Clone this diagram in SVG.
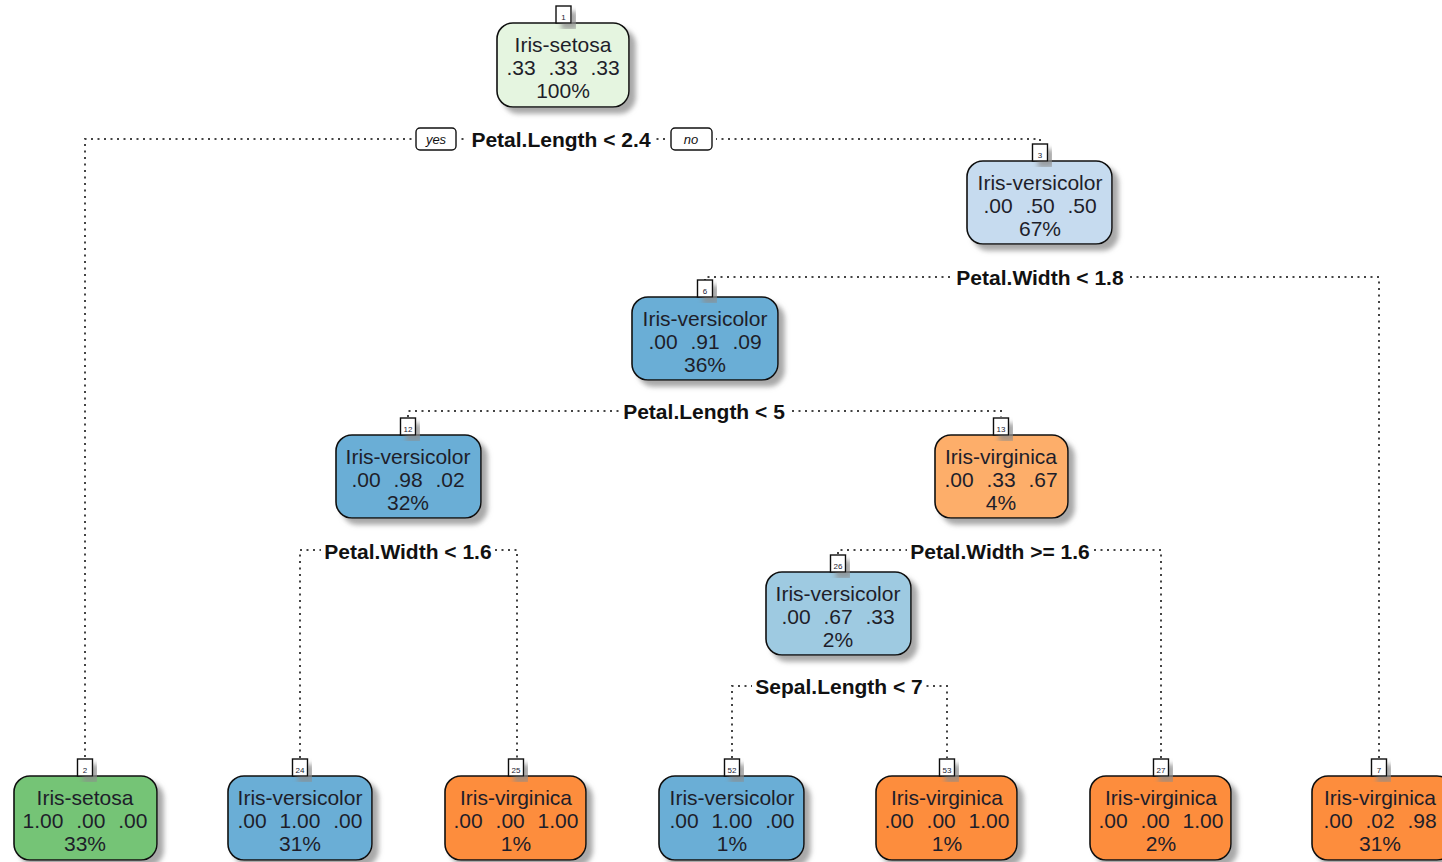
<svg xmlns="http://www.w3.org/2000/svg" width="1442" height="862" viewBox="0 0 1442 862">
<defs>
<filter id="sh" x="-20%" y="-20%" width="150%" height="150%">
<feDropShadow dx="6" dy="6" stdDeviation="2.5" flood-color="#8c8c8c" flood-opacity="0.75"/>
</filter>
<style>
.bg{fill:#ffffff}
.box{stroke:#111;stroke-width:1.6;filter:url(#sh)}
.num{fill:#fff;stroke:#111;stroke-width:1.4;filter:url(#sh)}
.numt{font-family:"Liberation Sans",Arial,sans-serif;font-size:8px;fill:#223;text-anchor:middle}
.nt{font-family:"Liberation Sans",Arial,sans-serif;font-size:21px;fill:#1e1e2a;text-anchor:middle;word-spacing:7px}
.lbl{font-family:"Liberation Sans",Arial,sans-serif;font-size:21px;font-weight:bold;fill:#111;text-anchor:middle}
.lblbg{fill:#ffffff}
.conn{fill:none;stroke:#444;stroke-width:2;stroke-dasharray:2 4.5}
.yn{fill:#fff;stroke:#111;stroke-width:1.4}
.ynt{font-family:"Liberation Sans",Arial,sans-serif;font-size:13px;font-style:italic;fill:#111;text-anchor:middle}
</style>
</defs>
<rect class="bg" x="0" y="0" width="1442" height="862"/>

<g id="connectors">
<path class="conn" d="M85,757 V139 H1040 V144"/>
<path class="conn" d="M705,281 V277 H1379 V758"/>
<path class="conn" d="M408,417 V411 H1001 V417"/>
<path class="conn" d="M300,758 V550 H517 V758"/>
<path class="conn" d="M838,554 V550 H1161 V758"/>
<path class="conn" d="M732,758 V686 H947 V758"/>
<g id="labels">
<rect class="lblbg" x="468" y="128" width="187" height="22"/>
<text class="lbl" x="561" y="147">Petal.Length &lt; 2.4</text>
<rect class="lblbg" x="412" y="126" width="48" height="27"/>
<rect class="yn" x="416" y="128" width="40" height="22" rx="4"/>
<text class="ynt" x="436" y="144">yes</text>
<rect class="lblbg" x="667" y="126" width="49" height="27"/>
<rect class="yn" x="671" y="128" width="41" height="22" rx="4"/>
<text class="ynt" x="691" y="144">no</text>
<rect class="lblbg" x="953" y="266" width="174" height="22"/>
<text class="lbl" x="1040" y="285">Petal.Width &lt; 1.8</text>
<rect class="lblbg" x="620" y="400" width="168" height="22"/>
<text class="lbl" x="704" y="419">Petal.Length &lt; 5</text>
<rect class="lblbg" x="321" y="539" width="174" height="22"/>
<text class="lbl" x="408" y="559">Petal.Width &lt; 1.6</text>
<rect class="lblbg" x="907" y="539" width="186" height="22"/>
<text class="lbl" x="1000" y="559">Petal.Width &gt;= 1.6</text>
<rect class="lblbg" x="752" y="675" width="174" height="22"/>
<text class="lbl" x="839" y="694">Sepal.Length &lt; 7</text>
</g>
</g>

<g id="node1">
<rect class="box" x="497" y="23" width="132" height="84" rx="16" fill="#e5f5e0"/>
<rect class="num" x="556" y="6" width="15" height="17"/>
<text class="numt" x="563.5" y="20">1</text>
<text class="nt" x="563" y="52">Iris-setosa</text>
<text class="nt" x="563" y="75">.33 .33 .33</text>
<text class="nt" x="563" y="98">100%</text>
</g>

<g id="node3">
<rect class="box" x="967" y="161" width="145" height="83" rx="16" fill="#c6dbef"/>
<rect class="num" x="1032.5" y="144" width="15" height="17"/>
<text class="numt" x="1040" y="158">3</text>
<text class="nt" x="1040" y="190">Iris-versicolor</text>
<text class="nt" x="1040" y="213">.00 .50 .50</text>
<text class="nt" x="1040" y="236">67%</text>
</g>

<g id="node6">
<rect class="box" x="632" y="297" width="146" height="83" rx="16" fill="#6baed6"/>
<rect class="num" x="697.5" y="280" width="15" height="17"/>
<text class="numt" x="705" y="294">6</text>
<text class="nt" x="705" y="326">Iris-versicolor</text>
<text class="nt" x="705" y="349">.00 .91 .09</text>
<text class="nt" x="705" y="372">36%</text>
</g>

<g id="node12">
<rect class="box" x="336" y="435" width="145" height="83" rx="16" fill="#6baed6"/>
<rect class="num" x="400.5" y="418" width="15" height="17"/>
<text class="numt" x="408" y="432">12</text>
<text class="nt" x="408" y="464">Iris-versicolor</text>
<text class="nt" x="408" y="487">.00 .98 .02</text>
<text class="nt" x="408" y="510">32%</text>
</g>

<g id="node13">
<rect class="box" x="935" y="435" width="133" height="83" rx="16" fill="#fdae6b"/>
<rect class="num" x="993.5" y="418" width="15" height="17"/>
<text class="numt" x="1001" y="432">13</text>
<text class="nt" x="1001" y="464">Iris-virginica</text>
<text class="nt" x="1001" y="487">.00 .33 .67</text>
<text class="nt" x="1001" y="510">4%</text>
</g>

<g id="node26">
<rect class="box" x="766" y="572" width="145" height="83" rx="16" fill="#9ecae1"/>
<rect class="num" x="830.5" y="555" width="15" height="17"/>
<text class="numt" x="838" y="569">26</text>
<text class="nt" x="838" y="601">Iris-versicolor</text>
<text class="nt" x="838" y="624">.00 .67 .33</text>
<text class="nt" x="838" y="647">2%</text>
</g>

<g id="node2">
<rect class="box" x="14" y="776" width="143" height="84" rx="16" fill="#74c476"/>
<rect class="num" x="77.5" y="759" width="15" height="17"/>
<text class="numt" x="85" y="773">2</text>
<text class="nt" x="85" y="805">Iris-setosa</text>
<text class="nt" x="85" y="828">1.00 .00 .00</text>
<text class="nt" x="85" y="851">33%</text>
</g>

<g id="node24">
<rect class="box" x="228" y="776" width="144" height="84" rx="16" fill="#6baed6"/>
<rect class="num" x="292.5" y="759" width="15" height="17"/>
<text class="numt" x="300" y="773">24</text>
<text class="nt" x="300" y="805">Iris-versicolor</text>
<text class="nt" x="300" y="828">.00 1.00 .00</text>
<text class="nt" x="300" y="851">31%</text>
</g>

<g id="node25">
<rect class="box" x="445" y="776" width="141" height="84" rx="16" fill="#fd8d3c"/>
<rect class="num" x="508.5" y="759" width="15" height="17"/>
<text class="numt" x="516" y="773">25</text>
<text class="nt" x="516" y="805">Iris-virginica</text>
<text class="nt" x="516" y="828">.00 .00 1.00</text>
<text class="nt" x="516" y="851">1%</text>
</g>

<g id="node52">
<rect class="box" x="659" y="776" width="145" height="84" rx="16" fill="#6baed6"/>
<rect class="num" x="724.5" y="759" width="15" height="17"/>
<text class="numt" x="732" y="773">52</text>
<text class="nt" x="732" y="805">Iris-versicolor</text>
<text class="nt" x="732" y="828">.00 1.00 .00</text>
<text class="nt" x="732" y="851">1%</text>
</g>

<g id="node53">
<rect class="box" x="876" y="776" width="141" height="84" rx="16" fill="#fd8d3c"/>
<rect class="num" x="939.5" y="759" width="15" height="17"/>
<text class="numt" x="947" y="773">53</text>
<text class="nt" x="947" y="805">Iris-virginica</text>
<text class="nt" x="947" y="828">.00 .00 1.00</text>
<text class="nt" x="947" y="851">1%</text>
</g>

<g id="node27">
<rect class="box" x="1090" y="776" width="141" height="84" rx="16" fill="#fd8d3c"/>
<rect class="num" x="1153.5" y="759" width="15" height="17"/>
<text class="numt" x="1161" y="773">27</text>
<text class="nt" x="1161" y="805">Iris-virginica</text>
<text class="nt" x="1161" y="828">.00 .00 1.00</text>
<text class="nt" x="1161" y="851">2%</text>
</g>

<g id="node7">
<rect class="box" x="1312" y="776" width="141" height="84" rx="16" fill="#fd8d3c"/>
<rect class="num" x="1371.5" y="759" width="15" height="17"/>
<text class="numt" x="1379" y="773">7</text>
<text class="nt" x="1380" y="805">Iris-virginica</text>
<text class="nt" x="1380" y="828">.00 .02 .98</text>
<text class="nt" x="1380" y="851">31%</text>
</g>
</svg>
